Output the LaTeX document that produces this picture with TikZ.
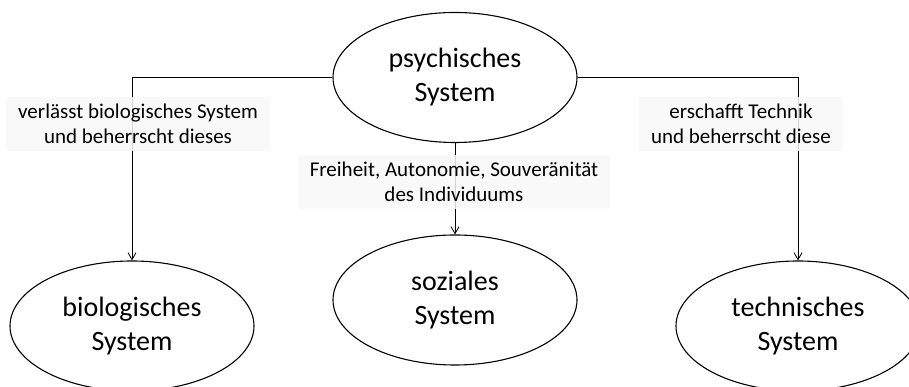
\documentclass[tikz,border=0pt]{standalone}
\usepackage{fontspec}
\setmainfont{Carlito}
\usepackage{tikz}
\usetikzlibrary{shapes.geometric, arrows.meta, positioning}
\definecolor{labelcolor}{RGB}{248, 248, 248}

\begin{document}
\begin{tikzpicture}[
    x=1pt, y=1pt,
    system/.style={draw, ellipse, line width=1.1pt, minimum width=244pt, minimum height=130pt, inner sep=0pt, align=center, font=\fontsize{28}{34}\selectfont},
    relation/.style={fill=labelcolor, fill opacity=0.85, text opacity=1, inner xsep=12pt, inner ysep=7pt, align=center, font=\fontsize{21}{25}\selectfont},
    arrow/.style={-{Straight Barb[length=7pt, width=8pt]}, line width=0.8pt}
]
\useasboundingbox (0, 0) rectangle (909, 387);

% Systems
\node[system] (psychisch) at (455, 309.5) {psychisches\\System};
\node[system] (biologisch) at (132, 61) {biologisches\\System};
\node[system] (sozial) at (455, 87) {soziales\\System};
\node[system] (technisch) at (798, 61) {technisches\\System};

% Connections
\draw[arrow] (psychisch.west) -| (biologisch.north);
\draw[arrow] (psychisch.south) -- (sozial.north);
\draw[arrow] (psychisch.east) -| (technisch.north);

% Relation labels
\node[relation] (verlassen) at (138, 263) {verlässt biologisches System\\und beherrscht dieses};
\node[relation] (freiheit) at (454, 205) {Freiheit, Autonomie, Souveränität\\des Individuums};
\node[relation] (erschaffen) at (741, 263) {erschafft Technik\\und beherrscht diese};

\end{tikzpicture}
\end{document}
